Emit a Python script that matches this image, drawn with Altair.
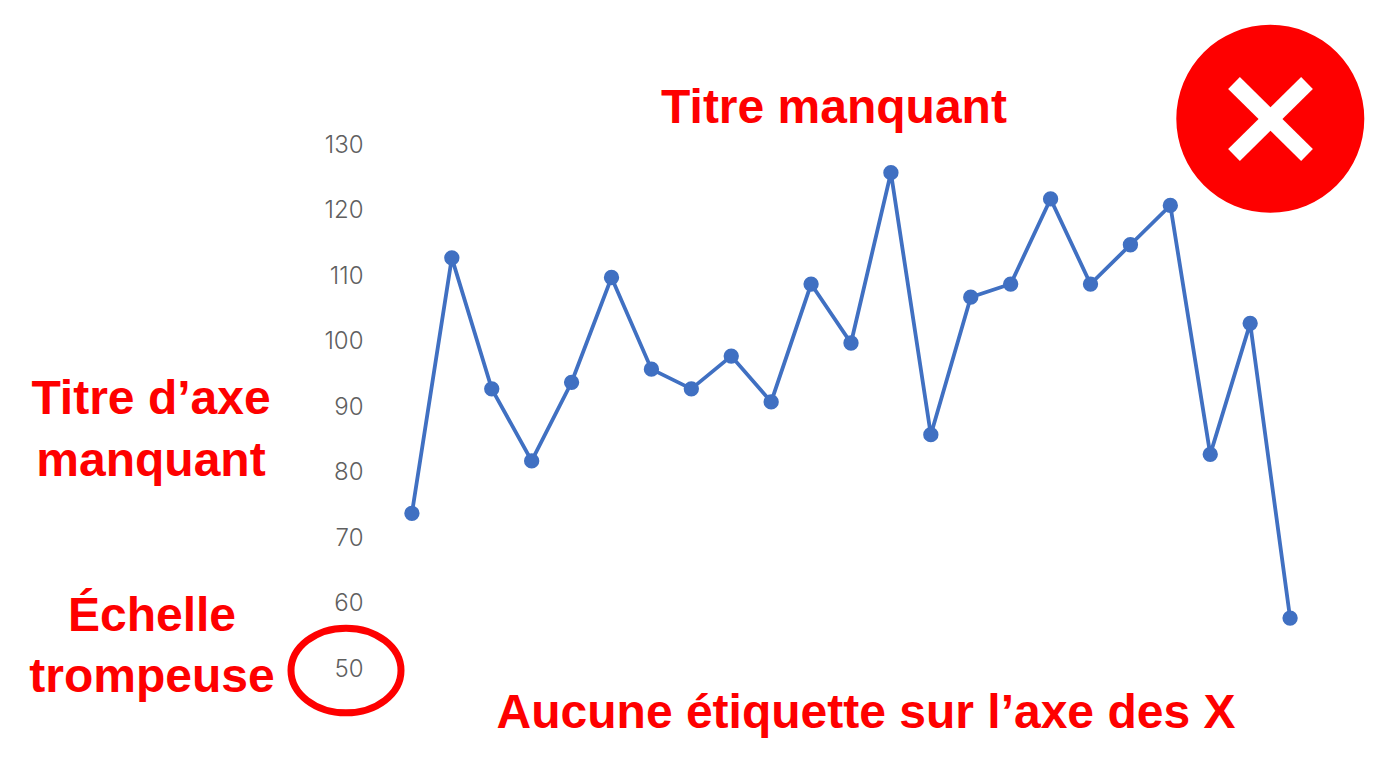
import altair as alt
import pandas as pd

values = [74, 113, 93, 82, 94, 110, 96, 93, 98, 91, 109, 100, 126, 86, 107, 109, 122, 109, 115, 121, 83, 103, 58]
indices = list(range(1, len(values) + 1))
y_ticks = [50, 60, 70, 80, 90, 100, 110, 120, 130]

LEFT, TOP = 372, 146.5  # page position of the plot area
W, H = 958, 524
RED = "#fe0000"
BLUE = "#4070c2"
FONT = "Liberation Sans"

df = pd.DataFrame({"i": indices, "v": values})
one = alt.Data(values=[{"a": 1}])


def px(x):
    return alt.value(x - LEFT)


def py(y):
    return alt.value(y - TOP)


def note(text, x, y, size=48):
    return alt.Chart(one).mark_text(
        text=text, font=FONT, fontWeight="bold", fontSize=size, color=RED,
        align="center", baseline="alphabetic",
    ).encode(x=px(x), y=py(y))


x_enc = alt.X("i:Q", scale=alt.Scale(domain=[0, 24], nice=False, zero=False), axis=None)
y_enc = alt.Y(
    "v:Q",
    scale=alt.Scale(domain=[50, 130], nice=False, zero=False),
    axis=alt.Axis(
        values=y_ticks, title=None, domain=False, ticks=False, grid=False,
        labelFont="Inter", labelFontSize=24, labelColor="#5f5f5f",
        labelPadding=9, labelFontWeight=300, labelOffset=-1.5,
    ),
)

line = alt.Chart(df).mark_line(color=BLUE, strokeWidth=3.8).encode(x=x_enc, y=y_enc)
dots = alt.Chart(df).mark_circle(color=BLUE, opacity=1, size=235).encode(x=x_enc, y=y_enc)

badge = alt.Chart(one).mark_circle(color=RED, opacity=1, size=35344).encode(x=px(1270.3), y=py(118.8))
cross_a = alt.Chart(one).mark_rule(color="white", strokeWidth=16.7).encode(
    x=px(1234), x2=px(1307), y=py(83), y2=py(155))
cross_b = alt.Chart(one).mark_rule(color="white", strokeWidth=16.7).encode(
    x=px(1234), x2=px(1307), y=py(155), y2=py(83))

ring = alt.Chart(one).mark_point(
    shape="M-1,0 A1,0.77 0 1,1 1,0 A1,0.77 0 1,1 -1,0 Z",
    size=12100, color=RED, filled=False, strokeWidth=7, opacity=1,
).encode(x=px(346), y=py(670.5))

chart = alt.layer(
    line, dots, badge, cross_a, cross_b, ring,
    note("Titre manquant", 834, 123),
    note("Titre d’axe", 151, 414),
    note("manquant", 151, 476),
    note("Échelle", 152, 631),
    note("trompeuse", 152, 692),
    note("Aucune étiquette sur l’axe des X", 866, 728),
).properties(
    width=W, height=H,
    autosize=alt.AutoSizeParams(type="none"),
    padding={"left": LEFT - 8, "top": TOP - 8, "right": 1374 - W - (LEFT - 8), "bottom": 752 - H - (TOP - 8)},
    background="white",
).configure_view(stroke=None)

chart.save("out.html", embed_options={"renderer": "svg", "actions": False})
